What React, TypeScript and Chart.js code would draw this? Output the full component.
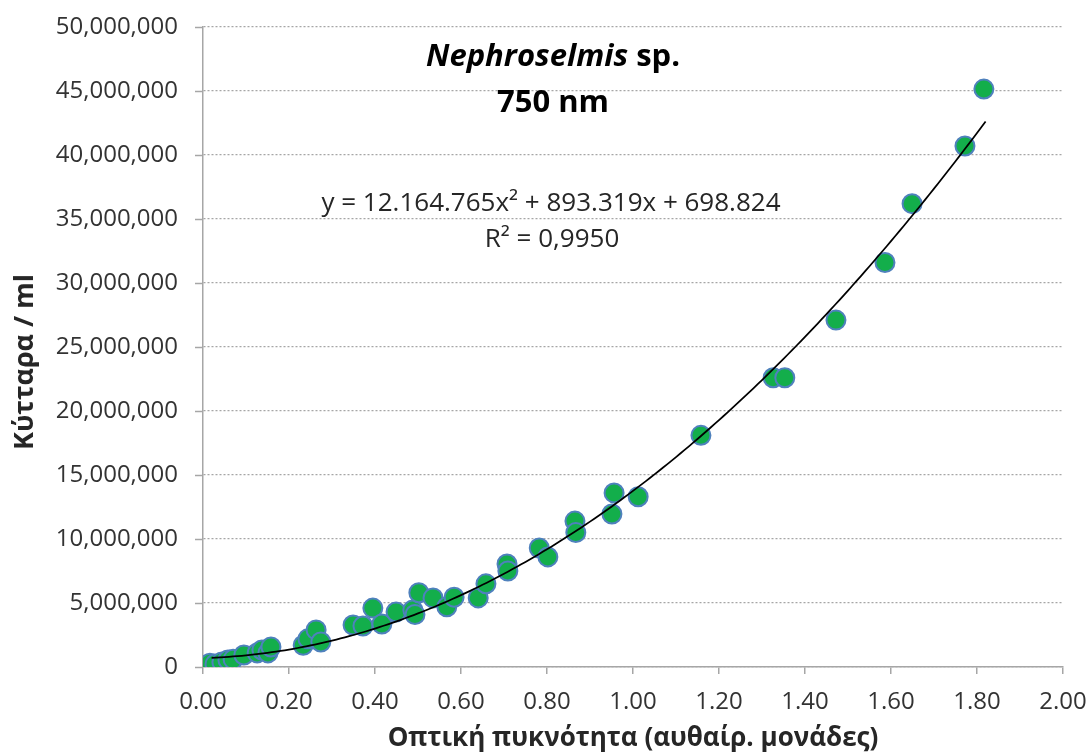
import React, { useEffect, useRef } from "react";
import { Chart, registerables } from "chart.js";

Chart.register(...registerables);

// Optical density (x) and cell counts (y)
const opticalDensity = [
  0.016, 0.028, 0.044, 0.058, 0.07, 0.095, 0.126, 0.137, 0.151, 0.158,
  0.233, 0.244, 0.263, 0.274, 0.349, 0.372, 0.395, 0.416, 0.449, 0.488,
  0.493, 0.502, 0.535, 0.567, 0.584, 0.64, 0.658, 0.707, 0.709, 0.782,
  0.802, 0.865, 0.867, 0.951, 0.956, 1.012, 1.158, 1.326, 1.353, 1.472,
  1.586, 1.649, 1.772, 1.816,
];
const cellsPerMl = [
  300000, 230000, 400000, 550000, 600000, 940000, 1100000, 1330000, 1100000, 1560000,
  1700000, 2200000, 2900000, 1950000, 3280000, 3200000, 4600000, 3360000, 4300000, 4450000,
  4100000, 5800000, 5400000, 4700000, 5450000, 5400000, 6500000, 8050000, 7500000, 9300000,
  8600000, 11400000, 10500000, 11950000, 13600000, 13300000, 18100000, 22600000, 22600000, 27100000,
  31600000, 36200000, 40700000, 45150000,
];

// Polynomial trendline coefficients as printed on the chart
const trendA = 12164765;
const trendB = 893319;
const trendC = 698824;
const trendStartX = 0.02;
const trendEndX = 1.82;

const titleItalic = "Nephroselmis";
const titleRest = " sp.";
const titleLine2 = "750 nm";
const equationText = "y = 12.164.765x² + 893.319x + 698.824";
const r2Text = "R² = 0,9950";
const xAxisTitle = "Οπτική πυκνότητα (αυθαίρ. μονάδες)";
const yAxisTitle = "Κύτταρα / ml";

const FONT = "'Open Sans', 'Noto Sans', sans-serif";

export default function App() {
  const ref = useRef<HTMLCanvasElement | null>(null);

  useEffect(() => {
    if (!ref.current) return;
    const trendPts: { x: number; y: number }[] = [];
    const n = Math.round((trendEndX - trendStartX) / 0.01);
    for (let i = 0; i <= n; i++) {
      const x = trendStartX + i * 0.01;
      trendPts.push({ x, y: trendA * x * x + trendB * x + trendC });
    }
    const points = opticalDensity.map((x, i) => ({ x, y: cellsPerMl[i] }));

    const annotations = {
      id: "annotations",
      afterDraw(chart: any) {
        const ctx = chart.ctx;
        const ys = chart.scales.y;
        const area = chart.chartArea;
        ctx.save();
        // y axis tick marks (solid)
        ctx.strokeStyle = "#A6A6A6";
        ctx.lineWidth = 1.5;
        ys.ticks.forEach((t: any) => {
          const py = Math.round(ys.getPixelForValue(t.value)) + 0.5;
          ctx.beginPath();
          ctx.moveTo(area.left - 8, py);
          ctx.lineTo(area.left, py);
          ctx.stroke();
        });
        // Title
        ctx.fillStyle = "#000000";
        ctx.textBaseline = "middle";
        const cx = 553;
        ctx.font = `italic bold 31px ${FONT}`;
        const w1 = ctx.measureText(titleItalic).width;
        ctx.font = `bold 31px ${FONT}`;
        const w2 = ctx.measureText(titleRest).width;
        const startX = cx - (w1 + w2) / 2;
        ctx.textAlign = "left";
        ctx.font = `italic bold 31px ${FONT}`;
        ctx.fillText(titleItalic, startX, 57);
        ctx.font = `bold 31px ${FONT}`;
        ctx.fillText(titleRest, startX + w1, 57);
        ctx.textAlign = "center";
        ctx.fillText(titleLine2, cx, 103);
        // Equation
        ctx.fillStyle = "#262626";
        ctx.font = `26px ${FONT}`;
        ctx.fillText(equationText, 551, 204);
        ctx.fillText(r2Text, 552, 240);
        // Y axis title
        ctx.fillStyle = "#262626";
        ctx.font = `bold 27px ${FONT}`;
        ctx.translate(25, 362);
        ctx.rotate(-Math.PI / 2);
        ctx.fillText(yAxisTitle, 0, 0);
        ctx.restore();
      },
    };

    const chart = new Chart(ref.current, {
      type: "scatter",
      data: {
        datasets: [
          {
            type: "line",
            data: trendPts,
            borderColor: "#000000",
            borderWidth: 1.75,
            pointRadius: 0,
            fill: false,
            tension: 0,
            order: 0,
          } as any,
          {
            data: points,
            backgroundColor: "#13AE4B",
            borderColor: "#4F81BD",
            borderWidth: 2,
            pointRadius: 9.5,
            order: 1,
          },
        ],
      },
      options: {
        responsive: false,
        animation: false,
        layout: { padding: { top: 27, right: 25, left: 0, bottom: 0 } },
        plugins: {
          legend: { display: false },
          tooltip: { enabled: false },
          title: { display: false },
        },
        scales: {
          x: {
            type: "linear",
            min: 0,
            max: 2,
            afterFit(scale: any) {
              scale.height = 87;
              scale.paddingLeft = 0;
              scale.paddingRight = 0;
            },
            ticks: {
              stepSize: 0.2,
              padding: 14,
              color: "#333333",
              font: { family: FONT, size: 24 },
              callback: (v: any) => Number(v).toFixed(2),
            },
            grid: {
              display: true,
              drawOnChartArea: false,
              drawTicks: true,
              tickLength: 7,
              color: "#A6A6A6",
              lineWidth: 1.5,
            },
            border: { display: true, color: "#A6A6A6", width: 1.5 },
            title: {
              display: true,
              text: xAxisTitle,
              color: "#262626",
              font: { family: FONT, size: 26, weight: "bold" },
              padding: { top: 0, bottom: 0 },
            },
          },
          y: {
            type: "linear",
            min: 0,
            max: 50000000,
            afterFit(scale: any) {
              scale.width = 203;
              scale.paddingTop = 0;
              scale.paddingBottom = 0;
            },
            ticks: {
              stepSize: 5000000,
              padding: 25,
              color: "#333333",
              font: { family: FONT, size: 24 },
              callback: (v: any) => Number(v).toLocaleString("en-US"),
            },
            grid: {
              display: true,
              drawTicks: false,
              color: "#A6A6A6",
              lineWidth: 1.25,
            },
            border: { display: true, color: "#A6A6A6", width: 1.5, dash: [2, 2] },
          },
        },
      },
      plugins: [annotations],
    });
    return () => chart.destroy();
  }, []);

  return (
    <div style={{ position: "fixed", left: 0, top: 0, width: 1088, height: 754, background: "#ffffff" }}>
      <canvas ref={ref} width={1088} height={754} />
    </div>
  );
}
